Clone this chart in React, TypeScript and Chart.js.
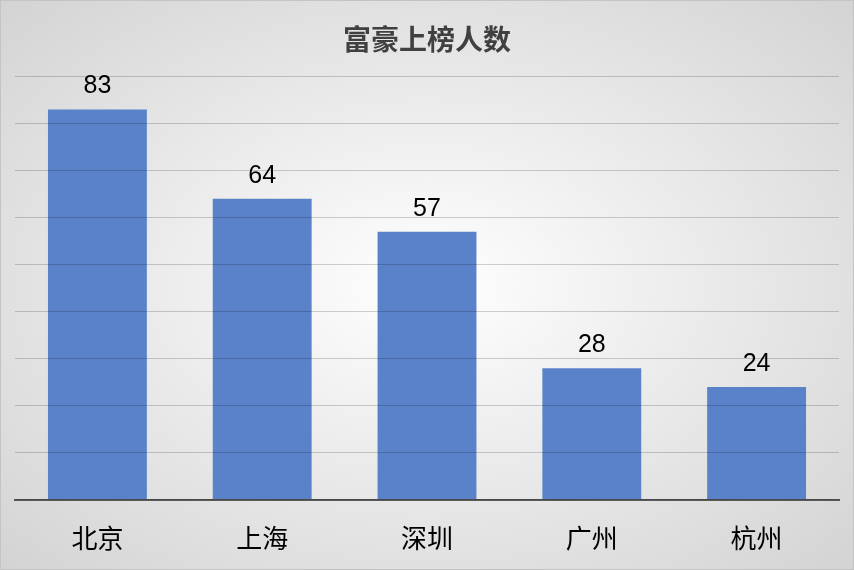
import { useEffect, useRef } from 'react';
import { Chart, BarController, BarElement, LinearScale, CategoryScale, Title } from 'chart.js';

Chart.register(BarController, BarElement, LinearScale, CategoryScale, Title);

const cities = ['北京', '上海', '深圳', '广州', '杭州'];
const counts = [83, 64, 57, 28, 24];
const chartTitle = '富豪上榜人数';

const CJK = '"Noto Sans CJK SC", "Noto Sans", sans-serif';

// draws the number above each bar
const valueLabels = {
  id: 'valueLabels',
  afterDatasetsDraw(chart: Chart) {
    const { ctx } = chart;
    const meta = chart.getDatasetMeta(0);
    ctx.save();
    ctx.font = '25px "Liberation Sans", Arial, sans-serif';
    ctx.fillStyle = '#000000';
    ctx.textAlign = 'center';
    ctx.textBaseline = 'middle';
    meta.data.forEach((bar: any, i: number) => {
      ctx.fillText(String(counts[i]), bar.x, bar.y - 23);
    });
    ctx.restore();
  },
};

const App = () => {
  const canvasRef = useRef<HTMLCanvasElement>(null);

  useEffect(() => {
    if (!canvasRef.current) return;
    const chart = new Chart(canvasRef.current, {
      type: 'bar',
      data: {
        labels: cities,
        datasets: [
          {
            data: counts,
            backgroundColor: '#5a82c8',
            borderWidth: 0,
            categoryPercentage: 1,
            barPercentage: 0.6,
          },
        ],
      },
      options: {
        responsive: true,
        maintainAspectRatio: false,
        animation: false,
        layout: { padding: { left: 15, right: 15, bottom: -7 } },
        plugins: {
          legend: { display: false },
          tooltip: { enabled: false },
          title: {
            display: true,
            text: chartTitle,
            color: '#404040',
            font: { family: CJK, size: 28, weight: 'bold' },
            padding: { top: 23, bottom: 20 },
          },
        },
        scales: {
          x: {
            grid: { display: false, drawTicks: false },
            border: { display: true, color: '#595959', width: 2, z: 1 },
            ticks: {
              color: '#000000',
              padding: 23,
              font: { family: CJK, size: 26 },
            },
          },
          y: {
            min: 0,
            max: 90,
            ticks: { display: false, stepSize: 10 },
            grid: { color: 'rgba(0,0,0,0.18)', lineWidth: 1, drawTicks: false, z: 1 },
            border: { display: false },
          },
        },
      },
      plugins: [valueLabels],
    });
    return () => chart.destroy();
  }, []);

  return (
    <div
      style={{
        position: 'fixed',
        left: 0,
        top: 0,
        width: 854,
        height: 570,
        background: 'radial-gradient(ellipse farthest-corner at 50% 50%, #ffffff 0%, #d3d3d3 100%)',
        boxShadow: 'inset 0 0 0 1px #c4c4c4',
      }}
    >
      <canvas ref={canvasRef}></canvas>
    </div>
  );
};

export default App;
